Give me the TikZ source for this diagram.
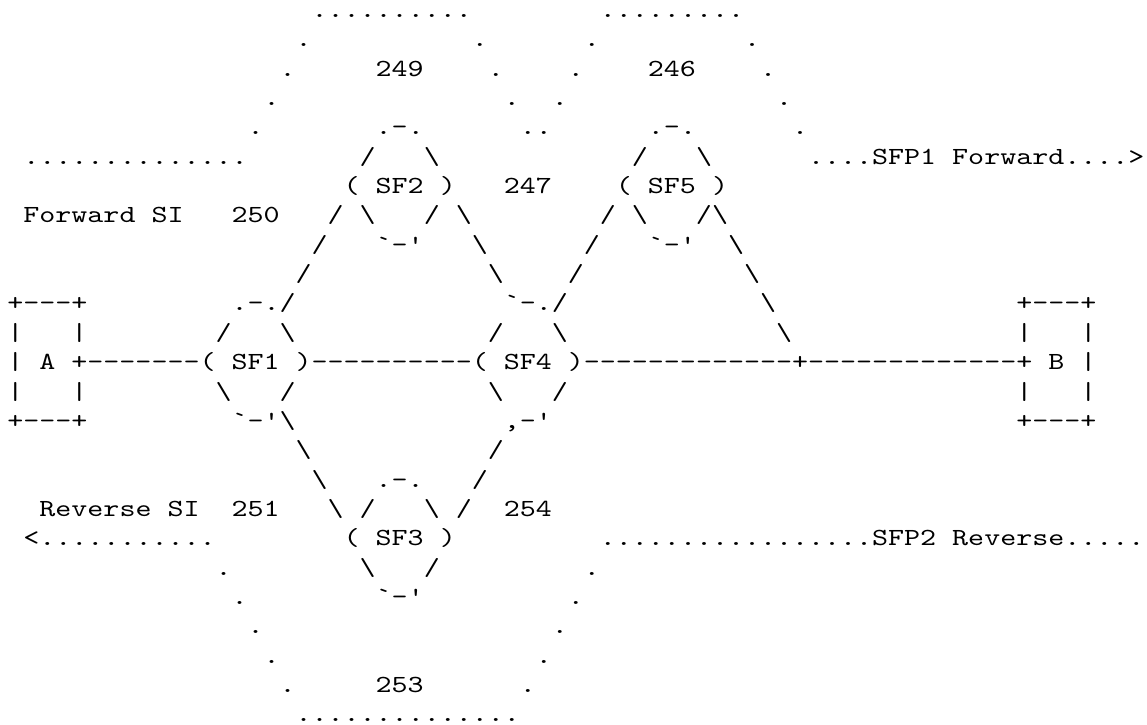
\documentclass[tikz,border=0pt]{standalone}
\usepackage{fontspec}
\newfontfamily\asciifont{lmmono10-regular.otf}[FakeStretch=1.24]
\usepackage{tikz}

\newcommand\bsl{\textbackslash}
\newcommand\gap[1]{\hspace*{#1\fontcharwd\font`\x}}

\begin{document}
\begin{tikzpicture}[x=8pt, y=-14.675pt,
  row/.style={anchor=base west, inner sep=0pt,
    font={\fontsize{12.3}{14.7}\asciifont\spaceskip\fontcharwd\font`\x\relax}}]
  \useasboundingbox (0,0) rectangle (71.6875,24.668);
  \begin{scope}[shift={(0.4375,-0.404)}]
  % upper paths (SFP1)
  \node[row] (r1) at (0,1) {\gap{19}..........\gap{8}.........};
  \node[row] (r2) at (0,2) {\gap{18}.\gap{10}.\gap{6}.\gap{9}.};
  \node[row] (r3) at (0,3) {\gap{17}.\gap{5}249\gap{4}.\gap{4}.\gap{4}246\gap{4}.};
  \node[row] (r4) at (0,4) {\gap{16}.\gap{14}.\gap{2}.\gap{13}.};
  \node[row] (r5) at (0,5) {\gap{15}.\gap{7}.-.\gap{6}..\gap{6}.-.\gap{6}.};
  \node[row] (r6) at (0,6) {\gap{1}..............\gap{7}/\gap{3}\bsl\gap{12}/\gap{3}\bsl\gap{6}....SFP1 Forward....>};
  \node[row] (r7) at (0,7) {\gap{21}( SF2 )\gap{3}247\gap{4}( SF5 )};
  \node[row] (r8) at (0,8) {\gap{1}Forward SI\gap{3}250\gap{3}/ \bsl\gap{3}/ \bsl\gap{8}/ \bsl\gap{3}/\bsl};
  \node[row] (r9) at (0,9) {\gap{19}/\gap{3}`-'\gap{3}\bsl\gap{6}/\gap{3}`-'\gap{2}\bsl};
  \node[row] (r10) at (0,10) {\gap{18}/\gap{11}\bsl\gap{4}/\gap{10}\bsl};
  % main line A -- B
  \node[row] (r11) at (0,11) {+---+\gap{9}.-./\gap{13}`-./\gap{12}\bsl\gap{15}+---+};
  \node[row] (r12) at (0,12) {|\gap{3}|\gap{8}/\gap{3}\bsl\gap{12}/\gap{3}\bsl\gap{13}\bsl\gap{14}|\gap{3}|};
  \node[row] (r13) at (0,13) {| A +-------( SF1 )----------( SF4 )-------------+-------------+ B |};
  \node[row] (r14) at (0,14) {|\gap{3}|\gap{8}\bsl\gap{3}/\gap{12}\bsl\gap{3}/\gap{28}|\gap{3}|};
  \node[row] (r15) at (0,15) {+---+\gap{9}`-'\bsl\gap{13},-'\gap{29}+---+};
  % lower paths (SFP2)
  \node[row] (r16) at (0,16) {\gap{18}\bsl\gap{11}/};
  \node[row] (r17) at (0,17) {\gap{19}\bsl\gap{3}.-.\gap{3}/};
  \node[row] (r18) at (0,18) {\gap{2}Reverse SI\gap{2}251\gap{3}\bsl{} /\gap{3}\bsl{} /\gap{2}254};
  \node[row] (r19) at (0,19) {\gap{1}<...........\gap{8}( SF3 )\gap{9}.................SFP2 Reverse.....};
  \node[row] (r20) at (0,20) {\gap{13}.\gap{8}\bsl\gap{3}/\gap{9}.};
  \node[row] (r21) at (0,21) {\gap{14}.\gap{8}`-'\gap{9}.};
  \node[row] (r22) at (0,22) {\gap{15}.\gap{18}.};
  \node[row] (r23) at (0,23) {\gap{16}.\gap{16}.};
  \node[row] (r24) at (0,24) {\gap{17}.\gap{5}253\gap{6}.};
  \node[row] (r25) at (0,25) {\gap{18}..............};
  \end{scope}
\end{tikzpicture}
\end{document}
